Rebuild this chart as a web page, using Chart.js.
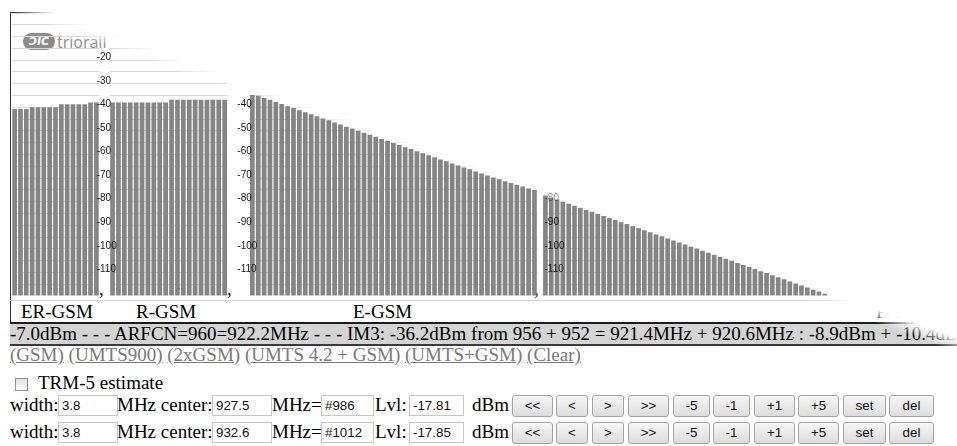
<!DOCTYPE html>
<html>
<head>
<meta charset="utf-8">
<script src="https://cdn.jsdelivr.net/npm/chart.js@4.4.1/dist/chart.umd.min.js"></script>
<style>
  html, body { margin: 0; padding: 0; background: #fff; width: 957px; height: 446px; overflow: hidden; }
  body { position: relative; font-family: "Liberation Serif", "Times New Roman", serif; font-size: 19px; color: #000; }
  .abs { position: absolute; white-space: nowrap; line-height: 22px; }
  canvas.band { position: absolute; left: 0; top: 0; z-index: 3; }
  #fade { position: absolute; left: 0; top: 0; width: 957px; height: 350px; z-index: 2; pointer-events: none; }
  #frame { position: absolute; left: 10px; top: 12px; width: 1200px; height: 310px; border-left: 1px solid #333; border-top: 1px solid #333; }
  #logo { position: absolute; left: 23px; top: 33px; width: 32px; height: 17px; border-radius: 9px; background: #8c8c8c;
          color: #fff; font: italic bold 11px "DejaVu Sans", sans-serif; line-height: 17px; text-align: center; }
  #logoText { position: absolute; left: 57px; top: 31px; font: 16px "Open Sans", sans-serif; color: #8e8e8e; }
  #status { position: absolute; left: 10px; top: 322px; width: 1100px; height: 20px; background: #d4d4d4;
            border-top: 2px solid #1c1c1c; border-bottom: 2px solid #3a3a3a; line-height: 20px; white-space: nowrap; overflow: hidden; }
  .lnk { color: #7a7a7a; text-decoration: underline; }
  .inp { position: absolute; height: 19px; border: 1px solid #c6c6c6; padding-left: 3px; box-sizing: content-box;
         font: 13.33px "Liberation Sans", Arial, sans-serif; line-height: 19px; color: #111; white-space: nowrap; }
  .btn { position: absolute; height: 20px; border: 1px solid #a4a4a4; border-radius: 3px; box-sizing: content-box;
         background: linear-gradient(#f7f7f7, #dcdcdc); font: 13.33px "Liberation Sans", Arial, sans-serif;
         line-height: 20px; text-align: center; color: #111; }
  #check { position: absolute; left: 15px; top: 378px; width: 11px; height: 11px; border: 1px solid #8f8f8f;
           background: linear-gradient(#e2e2e2, #f8f8f8); }
</style>
</head>
<body>
<div id="frame"></div>
<div id="logo">ƆIC</div>
<div id="logoText">triorail</div>

<div class="abs" style="left:99px;top:278px">,</div>
<div class="abs" style="left:227px;top:278px">,</div>
<div class="abs" style="left:534px;top:278px">,</div>
<div style="position:absolute;left:10px;top:300px;width:1000px;height:1px;background:#d8d8d8"></div>

<div class="abs" style="left:21px;top:301px">ER-GSM</div>
<div class="abs" style="left:136px;top:301px">R-GSM</div>
<div class="abs" style="left:353px;top:301px">E-GSM</div>
<div class="abs" style="left:876px;top:301px">P-GSM</div>

<div id="status">-7.0dBm - - - ARFCN=960=922.2MHz - - - IM3: -36.2dBm from 956 + 952 = 921.4MHz + 920.6MHz : -8.9dBm + -10.4dBm</div>

<div class="abs" style="left:10px;top:344px">
  <span class="lnk">(GSM)</span> <span class="lnk">(UMTS900)</span> <span class="lnk">(2xGSM)</span>
  <span class="lnk">(UMTS 4.2 + GSM)</span> <span class="lnk">(UMTS+GSM)</span> <span class="lnk">(Clear)</span>
</div>

<div id="check"></div>
<div class="abs" style="left:38px;top:372px">TRM-5 estimate</div>

<div id="fade"></div>

<canvas id="erChart" class="band" width="957" height="296"></canvas>
<canvas id="rChart" class="band" width="957" height="296"></canvas>
<canvas id="eChart" class="band" width="957" height="296"></canvas>
<canvas id="pChart" class="band" width="1270" height="296"></canvas>

<script>
// measured levels per ARFCN, dBm
const erLevels = [-40.7, -40.7, -40.7, -40.0, -40.0, -40.0, -40.0, -40.0, -38.7, -38.7, -38.7, -38.7, -38.7, -38.0, -38.0];
const rLevels = [-37.9, -37.9, -37.9, -37.9, -37.9, -37.9, -37.9, -37.9, -37.9, -37.9,
                 -36.8, -36.8, -36.8, -36.8, -36.8, -36.8, -36.8, -36.8, -36.8, -36.8];
const eLevels = [-34.8, -35.1, -36.0, -36.8, -37.7, -38.6, -39.5, -40.3, -41.2, -42.1,
                 -42.9, -43.8, -44.7, -45.5, -46.4, -47.3, -48.2, -49.0, -49.9, -50.8,
                 -51.6, -52.5, -53.4, -54.2, -55.1, -56.0, -56.9, -57.7, -58.6, -59.5,
                 -60.3, -61.2, -62.1, -62.9, -63.8, -64.7, -65.5, -66.3, -67.2, -68.1,
                 -68.9, -69.7, -70.5, -71.3, -72.1, -72.9, -73.6, -74.4, -75.1];
const pLevels = [-77.4, -78.3, -79.1, -80.0, -80.9, -81.7, -82.6, -83.5, -84.3, -85.2,
                 -86.1, -86.9, -87.8, -88.7, -89.5, -90.4, -91.3, -92.1, -93.0, -93.9,
                 -94.7, -95.6, -96.5, -97.3, -98.2, -99.1, -99.9, -100.8, -101.7, -102.5,
                 -103.4, -104.2, -105.1, -106.0, -106.9, -107.7, -108.6, -109.5, -110.3, -111.2,
                 -112.1, -112.9, -113.8, -114.7, -115.5, -116.4, -117.3, -118.1, -119.0];

function channelRange(first, last) {
  const out = [];
  for (let c = first; c <= last; c++) out.push(c);
  return out;
}
const erChannels = channelRange(940, 954);
const rChannels = channelRange(955, 974);
const eChannels = channelRange(975, 1023);
const pChannels = channelRange(1, 124);

const levelMin = -120;
const levelMax = 0;
const shownTicks = [-20, -30, -40, -50, -60, -70, -80, -90, -100, -110];

// control rows under the chart
const bandWidths = ['3.8', '3.8'];
const centerFreqs = ['927.5', '932.6'];
const arfcnTexts = ['#986', '#1012'];
const lvlTexts = ['-17.81', '-17.85'];
const buttonLabels = ['<<', '<', '>', '>>', '-5', '-1', '+1', '+5', 'set', 'del'];

Chart.defaults.font.family = '"Liberation Sans", Arial, sans-serif';

// white wash across the top right of the page
const FADE_X = 60, FADE_Y = 22, FADE_SLOPE = 0.36, FADE_SOFT = 7;
const fadeLen = Math.hypot(FADE_SLOPE, 1);
const NX = FADE_SLOPE / fadeLen, NY = -1 / fadeLen;

// 0 = fully visible, 1 = washed out
function fadeAlpha(x, y) {
  const d = (x - FADE_X) * NX + (y - FADE_Y) * NY;
  return Math.min(1, Math.max(0, 0.5 + d / (2 * FADE_SOFT)));
}

(function paintFade() {
  const el = document.getElementById('fade');
  const W = 957, H = 350;
  const ang = Math.atan2(NX, -NY) * 180 / Math.PI;
  const L = W * Math.abs(NX) + H * Math.abs(NY);
  const t = L / 2 + (FADE_X - W / 2) * NX + (FADE_Y - H / 2) * NY;
  el.style.background = `linear-gradient(${ang}deg, rgba(255,255,255,0) ${t - FADE_SOFT}px, #fff ${t + FADE_SOFT}px)`;
})();

function bandChart(id, channels, levels, plotLeft, plotRight, labelShift, showLabels) {
  const canvas = document.getElementById(id);
  const ctx = canvas.getContext('2d');
  const gridFade = ctx.createLinearGradient(FADE_X - NX * FADE_SOFT, FADE_Y - NY * FADE_SOFT,
                                            FADE_X + NX * FADE_SOFT, FADE_Y + NY * FADE_SOFT);
  gridFade.addColorStop(0, '#d9d9d9');
  gridFade.addColorStop(1, 'rgba(217,217,217,0)');

  return new Chart(ctx, {
    type: 'bar',
    data: {
      labels: channels,
      datasets: [{
        data: levels,
        backgroundColor: '#858585',
        base: levelMin,
        barPercentage: 0.8,
        categoryPercentage: 1
      }]
    },
    options: {
      responsive: false,
      animation: false,
      devicePixelRatio: 1,
      layout: { padding: { left: plotLeft, right: canvas.width - plotRight, top: 13, bottom: 0 } },
      plugins: { legend: { display: false }, tooltip: { enabled: false } },
      scales: {
        x: { display: false },
        y: {
          min: levelMin, max: levelMax,
          ticks: { display: false, stepSize: 5 },
          grid: { color: gridFade, drawTicks: false },
          border: { display: false }
        },
        yText: {
          type: 'linear', position: 'left',
          min: levelMin, max: levelMax,
          display: showLabels,
          grid: { display: false, drawTicks: false },
          border: { display: false },
          ticks: {
            z: 1,   // tick labels sit on top of the bars
            stepSize: 10, mirror: true, padding: labelShift, labelOffset: -3,
            font: { size: 10 },
            color: (c) => {
              const s = c.scale;
              const y = s.getPixelForValue(c.tick.value) - 3;
              const x = s.right + labelShift + 7;
              return `rgba(25,25,25,${(1 - fadeAlpha(x, y)).toFixed(3)})`;
            },
            callback: (v) => shownTicks.includes(v) ? String(v) : null
          },
          afterFit: (s) => { s.width = 0; s.paddingTop = 0; s.paddingBottom = 0; }
        }
      }
    }
  });
}

bandChart('erChart', erChannels, erLevels, 11.7, 99.3, 0, false);
bandChart('rChart', rChannels, rLevels, 109.6, 227.6, -12.9, true);
bandChart('eChart', eChannels, eLevels, 249.4, 537.4, -12.1, true);
bandChart('pChart', pChannels, pLevels, 542.5, 542.5 + 124 * 5.82, 2, true);

function put(cls, left, top, width, text) {
  const el = document.createElement('div');
  el.className = cls;
  el.style.left = left + 'px';
  el.style.top = top + 'px';
  if (width) el.style.width = width + 'px';
  el.textContent = text;
  document.body.appendChild(el);
}

const rowTops = [395, 422];
const buttonEdges = [[512, 553], [556, 588], [592, 624], [628, 669], [673, 710],
                     [713, 750], [754, 795], [798, 839], [843, 886], [889, 934]];
rowTops.forEach((top, r) => {
  const textTop = top - 0.7;
  put('abs', 10, textTop, 0, 'width:');
  put('inp', 58, top, 55, bandWidths[r]);
  put('abs', 117, textTop, 0, 'MHz center:');
  put('inp', 212, top, 55, centerFreqs[r]);
  put('abs', 272, textTop, 0, 'MHz=');
  put('inp', 321, top, 48, arfcnTexts[r]);
  put('abs', 375, textTop, 0, 'Lvl:');
  put('inp', 409, top, 50, lvlTexts[r]);
  put('abs', 472, textTop, 0, 'dBm');
  buttonLabels.forEach((lab, i) => {
    const [a, b] = buttonEdges[i];
    put('btn', a, top, b - a - 2, lab);
  });
});
</script>
</body>
</html>
